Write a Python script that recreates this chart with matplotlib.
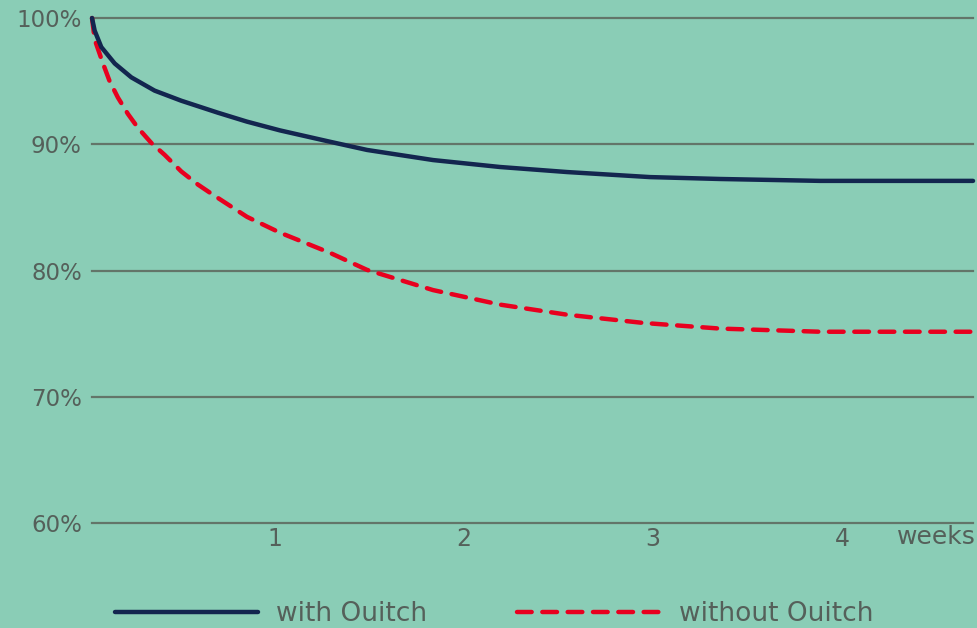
import matplotlib.pyplot as plt
from matplotlib.lines import Line2D

# values (x in weeks, y in %)
weeks_with = [0.032, 0.046, 0.081, 0.152, 0.240, 0.363, 0.504, 0.698, 0.850,
              1.026, 1.291, 1.487, 1.836, 2.190, 2.545, 2.984, 3.354, 3.884, 4.693]
with_ouitch = [100, 99.0, 97.7, 96.4, 95.3, 94.25, 93.45, 92.5, 91.8,
               91.1, 90.2, 89.55, 88.75, 88.2, 87.8, 87.4, 87.25, 87.1, 87.1]

weeks_without = [0.032, 0.046, 0.090, 0.125, 0.169, 0.222, 0.275, 0.346, 0.417,
                 0.504, 0.593, 0.672, 0.852, 1.026, 1.291, 1.487, 1.836, 2.190,
                 2.545, 2.947, 3.354, 3.884, 4.693]
without_ouitch = [100, 98.3, 96.4, 95.0, 93.7, 92.4, 91.3, 90.1, 89.15,
                  87.85, 86.8, 86.0, 84.25, 83.0, 81.4, 80.05, 78.45, 77.3,
                  76.5, 75.85, 75.4, 75.15, 75.15]

y_ticks = [60, 70, 80, 90, 100]
y_labels = ["60%", "70%", "80%", "90%", "100%"]
x_ticks = [1, 2, 3, 4]
x_labels = ["1", "2", "3", "4"]

bg = "#8acdb6"
navy = "#13264f"
red = "#e8001f"
grid_col = "#637569"
text_col = "#55605a"

plt.rcParams["font.family"] = ["DejaVu Sans"]

fig = plt.figure(figsize=(9.77, 6.28), dpi=100, facecolor=bg)
ax = fig.add_axes([0.088, 0.1672, 0.912, 0.8041])
ax.set_facecolor(bg)
ax.set_xlim(0, 4.714)
ax.set_ylim(60, 100)

for v in y_ticks:
    ax.axhline(v, xmin=0.007, xmax=0.9955, color=grid_col, lw=1.6, zorder=1, clip_on=False)

ax.plot(weeks_with, with_ouitch, color=navy, lw=3.2, solid_capstyle="round",
        solid_joinstyle="round", zorder=3, clip_on=False)
ax.plot(weeks_without, without_ouitch, color=red, lw=3.2, dashes=(3.3, 2.4),
        dash_capstyle="round", zorder=2, clip_on=False)

for s in ax.spines.values():
    s.set_visible(False)

ax.set_yticks(y_ticks)
ax.set_yticklabels(y_labels)
ax.set_xticks(x_ticks)
ax.set_xticklabels(x_labels)
ax.tick_params(axis="y", length=0, pad=3, labelsize=16.5, labelcolor=text_col)
ax.tick_params(axis="x", length=0, pad=3, labelsize=17, labelcolor=text_col)

fig.text(0.999, 1 - 537 / 628, "weeks", ha="right", va="center",
         fontsize=18, color=text_col)

handles = [
    Line2D([], [], color=navy, lw=3.2, solid_capstyle="round"),
    Line2D([], [], color=red, lw=3.2, dashes=(3.3, 2.4), dash_capstyle="round"),
]
fig.legend(handles, ["with Ouitch", "without Ouitch"], ncol=2, frameon=False,
           loc="center left", bbox_to_anchor=(115 / 977, 1 - 614 / 628),
           bbox_transform=fig.transFigure, fontsize=19, labelcolor=text_col,
           handlelength=5.4, handletextpad=0.72, columnspacing=3.4,
           borderpad=0, borderaxespad=0)

fig.savefig("out.png", dpi=100, facecolor=bg)
